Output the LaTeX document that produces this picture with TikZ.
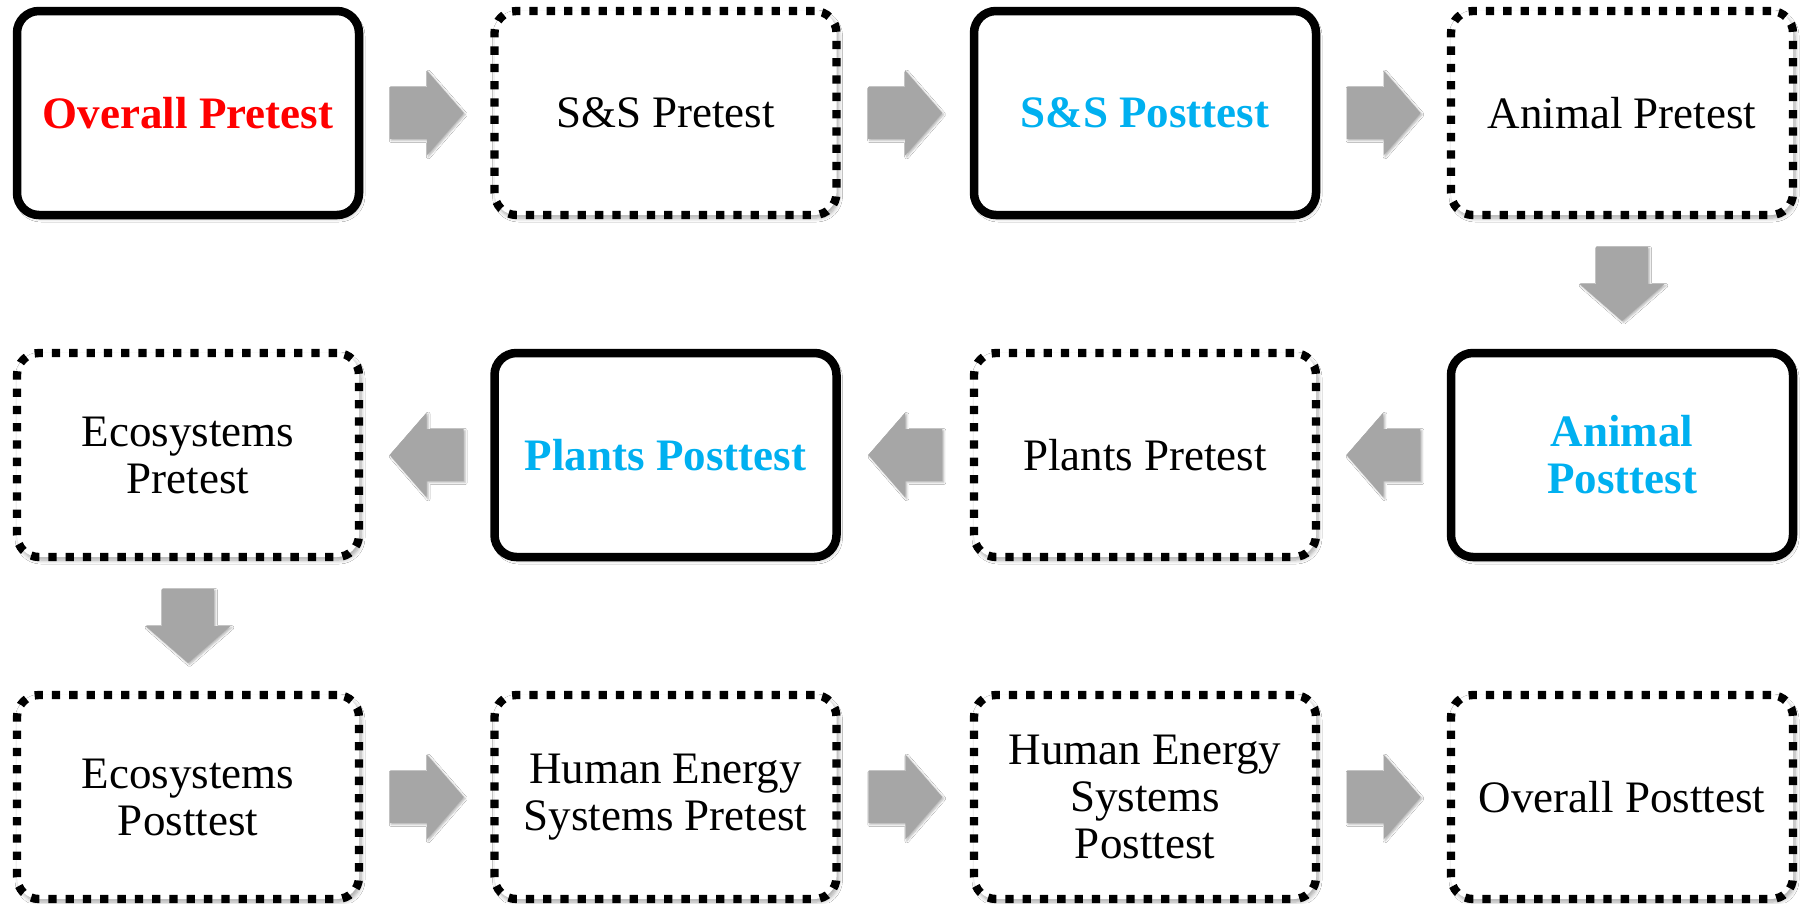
\documentclass[tikz,border=0pt]{standalone}
\usepackage{fontspec}
\setmainfont{Liberation Serif}
\usetikzlibrary{calc,shadows.blur}

\definecolor{hired}{HTML}{FF0000}
\definecolor{hiblue}{HTML}{00B0F0}
\definecolor{arrowgray}{HTML}{A6A6A6}

\tikzset{
  stage/.style={rectangle, rounded corners=22pt, fill=white,
    minimum width=342pt, minimum height=204pt, inner sep=0pt,
    align=center, font=\fontsize{45}{47}\selectfont,
    blur shadow={shadow xshift=2pt, shadow yshift=-3pt,
      shadow blur steps=6, shadow blur radius=4pt, shadow opacity=35}},
  solidbox/.style={stage, draw=black, line width=8.5pt},
  dotbox/.style={stage, draw=black, line width=8.3pt,
    dash pattern=on 8.3pt off 9pt},
  blockarrow/.pic={
    \fill[arrowgray, blur shadow={shadow xshift=1.5pt, shadow yshift=-1.5pt,
        shadow blur steps=4, shadow blur radius=2pt, shadow opacity=30}]
      (-37,-26) -- (0,-26) -- (0,-42.5) -- (37,0) -- (0,42.5) -- (0,26)
      -- (-37,26) -- cycle;
  }
}

\begin{document}
\begin{tikzpicture}[x=1pt, y=-1pt]
\useasboundingbox (0,0) rectangle (1803,903);
\fill[white] (0,0) rectangle (1803,903);

% first row, left to right
\node[solidbox, text=hired, font=\fontsize{45}{47}\selectfont\bfseries] (ovpre) at (188,113) {Overall Pretest};
\node[dotbox] (sspre) at (665.5,113) {S\&S Pretest};
\node[solidbox, text=hiblue, font=\fontsize{45}{47}\selectfont\bfseries] (sspost) at (1145,113) {S\&S Posttest};
\node[dotbox] (anpre) at (1622,113) {Animal Pretest};

% second row, right to left
\node[solidbox, text=hiblue, font=\fontsize{45}{47}\selectfont\bfseries] (anpost) at (1622,455) {Animal\\Posttest};
\node[dotbox] (plpre) at (1145,455) {Plants Pretest};
\node[solidbox, text=hiblue, font=\fontsize{45}{47}\selectfont\bfseries] (plpost) at (665.5,455) {Plants Posttest};
\node[dotbox] (ecopre) at (188,455) {Ecosystems\\Pretest};

% third row, left to right
\node[dotbox] (ecopost) at (188,797) {Ecosystems\\Posttest};
\node[dotbox] (hespre) at (665.5,797) {Human Energy\\Systems Pretest};
\node[dotbox] (hespost) at (1145,797) {Human Energy\\Systems\\Posttest};
\node[dotbox] (ovpost) at (1622,797) {Overall Posttest};

% block arrows between consecutive stages
\pic at ($(ovpre.east)!0.5!(sspre.west)$) {blockarrow};
\pic at ($(sspre.east)!0.5!(sspost.west)$) {blockarrow};
\pic at ($(sspost.east)!0.5!(anpre.west)$) {blockarrow};
\pic[rotate=-90] at ($(anpre.south)!0.5!(anpost.north)$) {blockarrow};
\pic[rotate=180] at ($(anpost.west)!0.5!(plpre.east)$) {blockarrow};
\pic[rotate=180] at ($(plpre.west)!0.5!(plpost.east)$) {blockarrow};
\pic[rotate=180] at ($(plpost.west)!0.5!(ecopre.east)$) {blockarrow};
\pic[rotate=-90] at ($(ecopre.south)!0.5!(ecopost.north)$) {blockarrow};
\pic at ($(ecopost.east)!0.5!(hespre.west)$) {blockarrow};
\pic at ($(hespre.east)!0.5!(hespost.west)$) {blockarrow};
\pic at ($(hespost.east)!0.5!(ovpost.west)$) {blockarrow};
\end{tikzpicture}
\end{document}
